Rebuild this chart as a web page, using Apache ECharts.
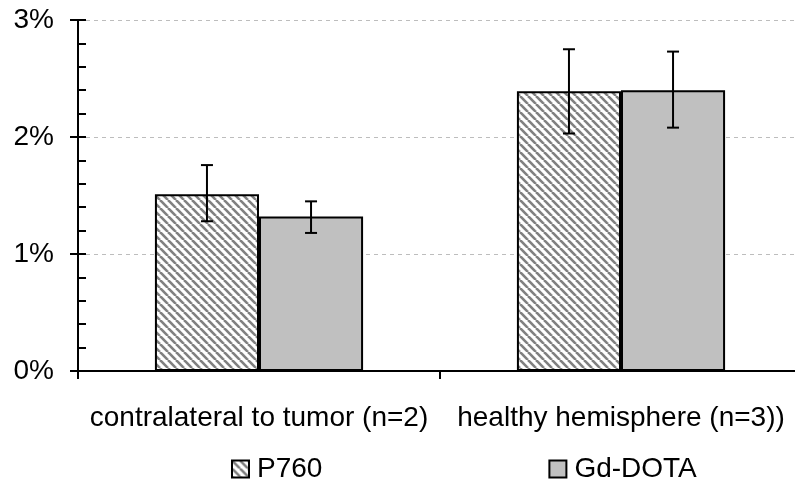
<!DOCTYPE html>
<html>
<head>
<meta charset="utf-8">
<script src="https://cdn.jsdelivr.net/npm/echarts@6/dist/echarts.min.js"></script>
<style>html,body{margin:0;padding:0;background:#fff}#c{width:795px;height:483px}</style>
</head>
<body>
<div id="c"></div>
<script>
const categories = ['contralateral to tumor (n=2)', 'healthy hemisphere (n=3))'];
const seriesNames = ['P760', 'Gd-DOTA'];
const p760 = [1.51, 2.39];
const gdDota = [1.32, 2.40];
const p760Low = [1.28, 2.03];
const p760High = [1.76, 2.75];
const gdLow = [1.18, 2.08];
const gdHigh = [1.45, 2.73];
const yTicks = [0, 1, 2, 3];

const FONT = "'Liberation Sans', Arial, sans-serif";
const FS = 28;
const GAP = 0.425;

function hatch() {
  const s = 8;
  const c = document.createElement('canvas');
  c.width = s; c.height = s;
  const g = c.getContext('2d');
  g.fillStyle = '#ffffff';
  g.fillRect(0, 0, s, s);
  g.strokeStyle = '#808080';
  g.lineWidth = 2.6;
  for (const k of [-s, 0, s]) {
    g.beginPath();
    g.moveTo(k, 0);
    g.lineTo(k + s, s);
    g.stroke();
  }
  return c;
}

function errSeries(low, high, side) {
  return {
    type: 'custom',
    xAxisIndex: 0,
    yAxisIndex: 0,
    z: 10,
    silent: true,
    data: categories.map((c, i) => [i, low[i], high[i]]),
    renderItem: function (params, api) {
      const i = api.value(0);
      const band = api.size([1, 0])[0];
      const bw = band * (1 - GAP) / 2;
      const pLow = api.coord([i, api.value(1)]);
      const pHigh = api.coord([i, api.value(2)]);
      const x = pLow[0] + side * bw / 2;
      const cap = 6;
      const style = { stroke: '#000', lineWidth: 2 };
      return {
        type: 'group',
        children: [
          { type: 'line', shape: { x1: x, y1: pLow[1], x2: x, y2: pHigh[1] }, style },
          { type: 'line', shape: { x1: x - cap, y1: pLow[1], x2: x + cap, y2: pLow[1] }, style },
          { type: 'line', shape: { x1: x - cap, y1: pHigh[1], x2: x + cap, y2: pHigh[1] }, style }
        ]
      };
    }
  };
}

const chart = echarts.init(document.getElementById('c'), null, { renderer: 'canvas' });
chart.setOption({
  animation: false,
  backgroundColor: '#fff',
  textStyle: { fontFamily: FONT, color: '#000' },
  grid: { left: 78, top: 20, width: 724, height: 351, containLabel: false, outerBoundsMode: 'none' },
  legend: {
    top: 450,
    left: 226,
    itemWidth: 17,
    itemHeight: 17,
    itemGap: 226,
    icon: 'rect',
    data: seriesNames,
    textStyle: { fontFamily: FONT, fontSize: FS, color: '#000', padding: [0, 0, 0, 3] }
  },
  xAxis: {
    type: 'category',
    data: categories,
    axisLine: { lineStyle: { color: '#000', width: 2 } },
    axisTick: { show: true, length: 8, lineStyle: { color: '#000', width: 2 } },
    axisLabel: { interval: 0, hideOverlap: false, margin: 33, fontFamily: FONT, fontSize: FS, color: '#000' },
    splitLine: { show: false }
  },
  yAxis: [
    {
      type: 'value',
      min: yTicks[0],
      max: yTicks[yTicks.length - 1],
      interval: 1,
      position: 'left',
      axisLine: { show: true, lineStyle: { color: '#000', width: 2 } },
      axisTick: { show: true, length: 8, lineStyle: { color: '#000', width: 2 } },
      axisLabel: { formatter: '{value}%', margin: 24, fontFamily: FONT, fontSize: FS, color: '#000' },
      splitLine: { show: true, lineStyle: { color: '#bdbdbd', type: [4, 4], width: 1 } }
    },
    {
      type: 'value',
      min: 0,
      max: 3,
      interval: 0.2,
      position: 'left',
      offset: 0,
      axisLine: { show: false },
      axisTick: { show: true, inside: true, length: 8, lineStyle: { color: '#000', width: 2 } },
      axisLabel: { show: false },
      splitLine: { show: false }
    }
  ],
  series: [
    {
      name: seriesNames[0],
      type: 'bar',
      data: p760,
      barGap: '0%',
      barCategoryGap: (GAP * 100) + '%',
      itemStyle: { color: { image: hatch(), repeat: 'repeat' }, borderColor: '#000', borderWidth: 2 }
    },
    {
      name: seriesNames[1],
      type: 'bar',
      data: gdDota,
      barGap: '0%',
      barCategoryGap: (GAP * 100) + '%',
      itemStyle: { color: '#c0c0c0', borderColor: '#000', borderWidth: 2 }
    },
    errSeries(p760Low, p760High, -1),
    errSeries(gdLow, gdHigh, 1)
  ]
});
</script>
</body>
</html>
